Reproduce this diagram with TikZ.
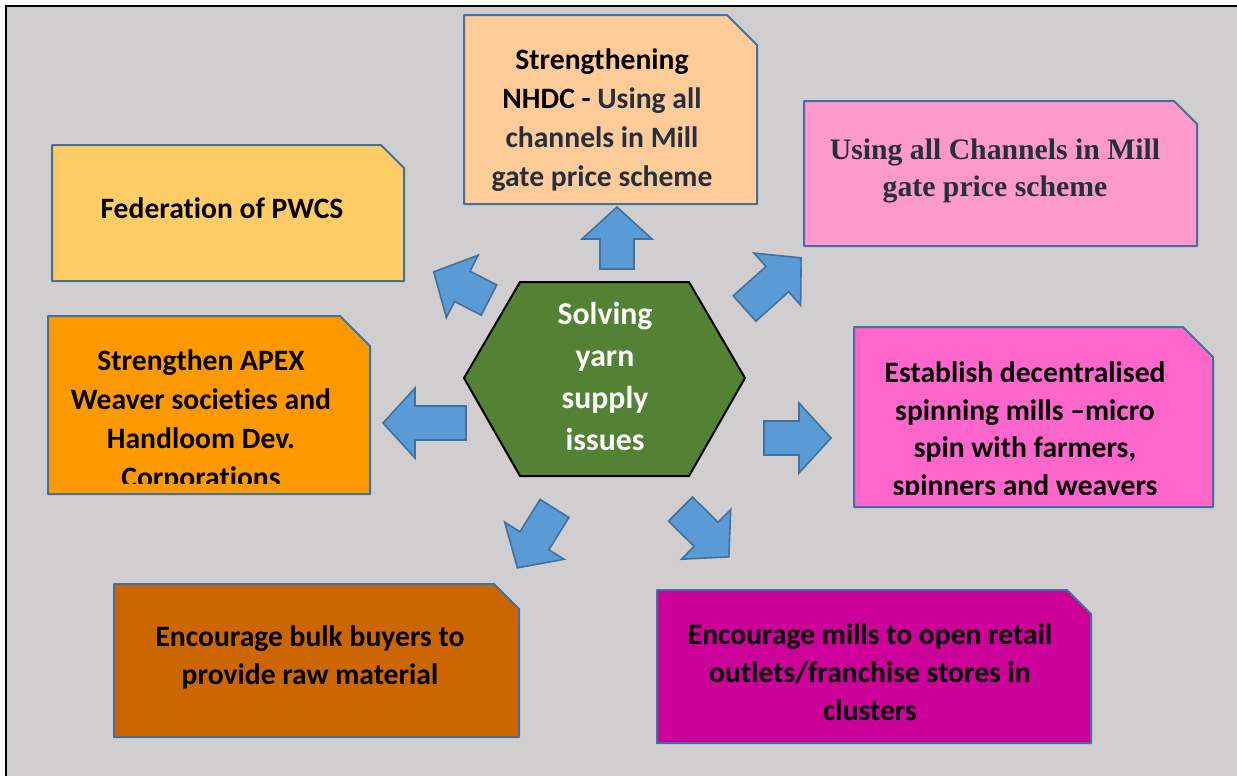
\documentclass[tikz,border=0pt]{standalone}
\usepackage{fontspec}
\setmainfont{Carlito}[Ligatures=NoCommon]
\newfontfamily\timesbf{Liberation Serif}
\definecolor{bgGray}{HTML}{D0CECE}
\definecolor{boxLine}{HTML}{41719C}
\definecolor{arrowFill}{HTML}{5B9BD5}
\definecolor{hexGreen}{HTML}{548235}
\definecolor{slateText}{HTML}{262F3E}
\definecolor{fedFill}{HTML}{FFCC66}
\definecolor{nhdcFill}{HTML}{FFCC99}
\definecolor{millFill}{HTML}{FF99CC}
\definecolor{apexFill}{HTML}{FF9900}
\definecolor{spinFill}{HTML}{FF66CC}
\definecolor{bulkFill}{HTML}{CC6600}
\definecolor{retailFill}{HTML}{CC0099}

% box with its top right corner cut off: x1 y1 x2 y2 cut fill
\newcommand\cutbox[6]{%
  \filldraw[fill=#6, draw=boxLine, line width=1.5pt, line join=round]
    (#1,#2) -- ({#3-#5},#2) -- (#3,{#2+#5}) -- (#3,#4) -- (#1,#4) -- cycle;}

\tikzset{
  lbl/.style={align=center, inner sep=0pt, text=black,
    font=\fontsize{22.2}{#1}\selectfont\bfseries},
  lbl/.default={29.25pt},
  hublbl/.style={align=center, inner sep=0pt, text=white,
    font=\fontsize{23.8}{31.5pt}\selectfont\bfseries},
  pics/blockarrow/.style={code={
    \filldraw[fill=arrowFill, draw=boxLine, line width=1.2pt, line join=miter]
      (0,-17) -- ({#1-32},-17) -- ({#1-32},-35) -- (#1,0)
      -- ({#1-32},35) -- ({#1-32},17) -- (0,17) -- cycle;}},
}

\begin{document}
\begin{tikzpicture}[x=0.75pt, y=-0.75pt]
\useasboundingbox (0,0) rectangle (1237,775);
\fill[white] (0,0) rectangle (1237,775);
\filldraw[fill=bgGray, draw=black, line width=2pt] (6,6) rectangle (1241,779);

% outcome boxes
\cutbox{52}{145}{404}{281}{23}{fedFill}
\cutbox{464}{15}{757}{204}{30}{nhdcFill}
\cutbox{804}{101}{1197}{246}{23}{millFill}
\cutbox{48}{316}{370}{494}{30}{apexFill}
\cutbox{854}{327}{1213}{507}{30}{spinFill}
\cutbox{114}{584}{519}{737}{25}{bulkFill}
\cutbox{657}{590}{1091}{743}{24}{retailFill}

\node[lbl] (fed) at (222,208) {Federation of PWCS};
\node[lbl] (nhdc) at (602,120.5) {Strengthening\\
  NHDC - \textcolor{slateText}{Using all}\\
  \textcolor{slateText}{channels in Mill}\\
  \textcolor{slateText}{gate price scheme}};
\node[align=center, inner sep=0pt, text=slateText,
  font=\fontsize{22.3}{27.75pt}\selectfont\timesbf\bfseries] (mill) at (995,171)
  {Using all Channels in Mill\\gate price scheme};
\begin{scope}
  \clip (50,318) rectangle (368,483);
  \node[lbl] (apex) at (201,421) {Strengthen APEX\\Weaver societies and\\Handloom Dev.\\Corporations};
\end{scope}
\begin{scope}
  \clip (856,329) rectangle (1211,494);
  \node[lbl=28.3pt] (spin) at (1025,431) {Establish decentralised\\spinning mills --micro\\spin with farmers,\\spinners and weavers};
\end{scope}
\node[lbl=28.5pt] (bulk) at (310,657) {Encourage bulk buyers to\\provide raw material};
\node[lbl=28.5pt] (retail) at (870,672) {Encourage mills to open retail\\outlets/franchise stores in\\clusters};

% central hexagon
\filldraw[fill=hexGreen, draw=black, line width=1.5pt, line join=miter]
  (464,378) -- (520,282) -- (689,282) -- (745,378) -- (689,476) -- (520,476) -- cycle;
\node[hublbl] (hub) at (605,376) {Solving\\yarn\\supply\\issues};

% block arrows pointing out from the hub
\pic[rotate=90]     at (617,269)   {blockarrow=62};
\pic[rotate=153]    at (489,300)   {blockarrow=62};
\pic[rotate=41.8]   at (744.5,308.5) {blockarrow=76};
\pic[rotate=180]    at (466,423)   {blockarrow=83};
\pic[rotate=0]      at (764,438)   {blockarrow=67};
\pic[rotate=238]    at (554.5,508.5) {blockarrow=70};
\pic[rotate=-44.7]  at (680.5,509) {blockarrow=68};
\end{tikzpicture}
\end{document}
